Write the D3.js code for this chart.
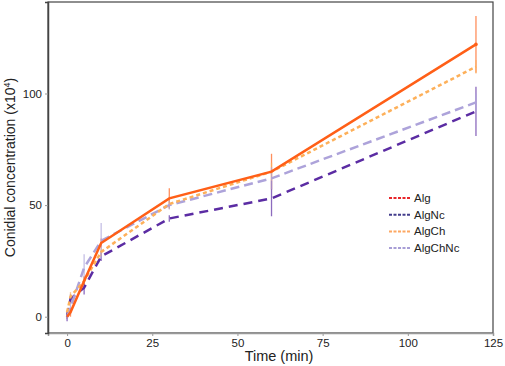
<!DOCTYPE html>
<html>
<head>
<meta charset="utf-8">
<script src="https://cdn.jsdelivr.net/npm/d3@7"></script>
<style>
  body { margin: 0; background: #fff; }
  text { font-family: "Liberation Sans", Arial, sans-serif; fill: #222; }
</style>
</head>
<body>
<div id="chart"></div>
<script>
// time points (min)
const times = [0, 1, 5, 10, 30, 60, 120];

// conidial concentration (x10^4)
const alg       = [0, 2, 16, 33, 53, 65, 122];
const algNc     = [0, 8, 13, 27, 44, 53, 92];
const algCh     = [2, 9, 16, 29, 50.5, 65, 112];
const algChNc   = [0, 4, 22, 34, 50, 62, 96];

// error bars (sd)
const algErr     = [1, 2, 2, 2, 4.5, 8, 12.7];
const algNcErr   = [2, 2, 3, 2, 1.5, 8, 11];
const algChErr   = [1, 2, 2, 2, 2, 4, 3];
const algChNcErr = [1, 3, 6, 8, 2, 5, 4];

const seriesNames = ["Alg", "AlgNc", "AlgCh", "AlgChNc"];
const legendColors = ["#e8262b", "#433d8c", "#fda862", "#a89ed6"];

const xTicks = [0, 25, 50, 75, 100, 125];
const yTicks = [0, 50, 100];

const series = [
  { name: "Alg", values: alg, err: algErr, color: "#ff5f17", dash: null },
  { name: "AlgNc", values: algNc, err: algNcErr, color: "#5b2ca3", dash: "9,6" },
  { name: "AlgCh", values: algCh, err: algChErr, color: "#fdb05a", dash: "4,3" },
  { name: "AlgChNc", values: algChNc, err: algChNcErr, color: "#ada3da", dash: "9,5" }
];

const width = 505, height = 366;
const margin = { top: 2, right: 12, bottom: 33, left: 48 };

const svg = d3.select("#chart").append("svg")
  .attr("width", width)
  .attr("height", height);

const x = d3.scaleLinear()
  .domain([-5.6, 125])
  .range([margin.left, width - margin.right]);

const y = d3.scaleLinear()
  .domain([-7.3, 141])
  .range([height - margin.bottom, margin.top]);

// frame (top/right)
svg.append("rect")
  .attr("x", margin.left)
  .attr("y", margin.top)
  .attr("width", width - margin.right - margin.left)
  .attr("height", height - margin.bottom - margin.top)
  .attr("fill", "none")
  .attr("stroke", "#444")
  .attr("stroke-width", 1.2);

const xAxis = svg.append("g")
  .attr("transform", "translate(0," + (height - margin.bottom) + ")")
  .call(d3.axisBottom(x).tickValues(xTicks).tickSize(3).tickPadding(3));
xAxis.select(".domain").attr("stroke", "#999").attr("stroke-width", 1.5);
xAxis.selectAll(".tick line").attr("stroke", "#999");
xAxis.selectAll("text").style("font-size", "11.5px");

const yAxis = svg.append("g")
  .attr("transform", "translate(" + margin.left + ",0)")
  .call(d3.axisLeft(y).tickValues(yTicks).tickSize(3).tickPadding(3));
yAxis.select(".domain").attr("stroke", "#444").attr("stroke-width", 1.5);
yAxis.selectAll(".tick line").attr("stroke", "#999");
yAxis.selectAll("text").style("font-size", "11.5px");

// axis titles
svg.append("text")
  .attr("x", 279)
  .attr("y", height - 5)
  .attr("text-anchor", "middle")
  .style("font-size", "14.5px")
  .text("Time (min)");

svg.append("text")
  .attr("transform", "translate(15," + ((y(-7.3) + y(141)) / 2) + ")rotate(-90)")
  .attr("text-anchor", "middle")
  .style("font-size", "14px")
  .text("Conidial concentration (x10")
  .append("tspan")
  .attr("dy", -5)
  .style("font-size", "9px")
  .text("4")
  .select(function() { return this.parentNode; })
  .append("tspan")
  .attr("dy", 5)
  .text(")");

const line = d3.line()
  .x((d, i) => x(times[i]))
  .y(d => y(d));

// error bars
series.forEach(s => {
  svg.append("g")
    .selectAll("line")
    .data(s.values)
    .enter().append("line")
    .attr("x1", (d, i) => x(times[i]))
    .attr("x2", (d, i) => x(times[i]))
    .attr("y1", (d, i) => y(d - s.err[i]))
    .attr("y2", (d, i) => y(d + s.err[i]))
    .attr("stroke", s.color)
    .attr("stroke-opacity", 0.7)
    .attr("stroke-width", 1.3);
});

// lines, drawn back to front
[series[1], series[3], series[2], series[0]].forEach(s => {
  svg.append("path")
    .datum(s.values)
    .attr("d", line)
    .attr("fill", "none")
    .attr("stroke", s.color)
    .attr("stroke-width", 2.5)
    .attr("stroke-dasharray", s.dash);
});

// small point at last Alg value
svg.append("circle")
  .attr("cx", x(times[6]))
  .attr("cy", y(alg[6]))
  .attr("r", 1.8)
  .attr("fill", "#ff5f17");

// legend
const legend = svg.append("g").attr("transform", "translate(389,198)");
seriesNames.forEach((n, i) => {
  const g = legend.append("g").attr("transform", "translate(0," + i * 16.7 + ")");
  g.append("line")
    .attr("x1", 0).attr("x2", 22)
    .attr("stroke", legendColors[i])
    .attr("stroke-width", 2)
    .attr("stroke-dasharray", "3,1.5");
  g.append("text")
    .attr("x", 25)
    .attr("y", 4)
    .style("font-size", "11.5px")
    .text(n);
});
</script>
</body>
</html>
